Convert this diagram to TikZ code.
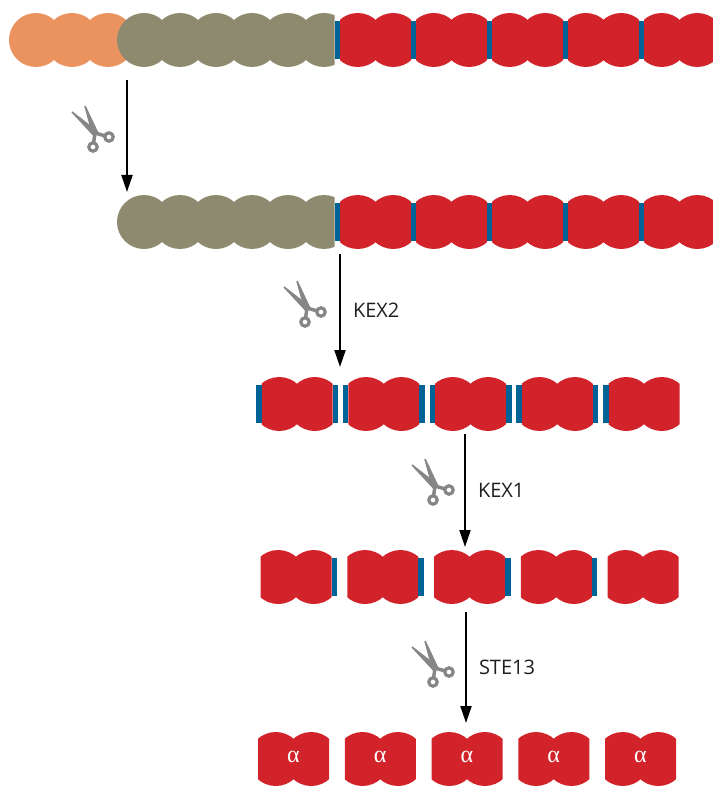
\documentclass[tikz,border=0pt]{standalone}
\usepackage{fontspec}
\setmainfont{Open Sans}
\newfontfamily\gregofont{Liberation Serif}
\usetikzlibrary{arrows.meta}

\definecolor{laranja}{HTML}{EA935F}
\definecolor{oliva}{HTML}{8E8A70}
\definecolor{vermelho}{HTML}{D2232A}
\definecolor{azul}{HTML}{006398}
\definecolor{cinza}{HTML}{868686}

\tikzset{
	seta/.style={-{Triangle[length=17pt,width=11pt]}, line width=2pt},
	rotulo/.style={anchor=west, inner sep=0pt, xshift=12pt, text=black!88, font=\fontsize{20}{24}\selectfont},
	alfa/.style={text=white, inner sep=0pt, font=\gregofont\fontsize{24}{28}\selectfont},
	barra/.style={fill=azul},
	pics/par/.style={code={ %par de esferas vermelhas
		\begin{scope}
			\clip (-35.5,-30) rectangle (35.5,30);
			\fill[vermelho] (-17.75,0) circle (27) (17.75,0) circle (27);
		\end{scope}}},
	pics/tesoura/.style={code={ %tesoura, origem no pino
		\fill[cinza] (-23.5,-20.5) -- (-22.5,-21.6) -- (2.19,-2.4) -- (-2.19,2.4) -- cycle; %lâmina 1
		\fill[cinza] (-10.7,-26.7) -- (-9.3,-27.3) -- (3.05,-1.13) -- (-3.05,1.13) -- cycle; %lâmina 2
		\draw[cinza, line width=3.5pt] (0,0) -- (-2,14) (0,0) -- (14,4); %cabos
		\draw[cinza, line width=3.2pt, fill=white] (-2,14) circle (4.2) (14,4) circle (4.2);}},
}

\begin{document}
\begin{tikzpicture}[x=1pt, y=-1pt] %escala em pontos, eixo y para baixo
	\useasboundingbox (0,0) rectangle (712,786);
		%Linha 1: pré-pró-proteína
	\foreach \x in {36,72,108} \fill[laranja] (\x,40) circle (27);
	\begin{scope}
		\clip (100,0) rectangle (334.5,80);
		\foreach \x in {144,180,...,324} \fill[oliva] (\x,40) circle (27);
	\end{scope}
	\foreach \i in {0,...,4} {
		\fill[barra] (334.5+76*\i,21) rectangle ++(5.5,38);
		\pic at (375.5+76*\i,40) {par};
	}
		%Linha 2: pró-proteína
	\begin{scope}
		\clip (100,180) rectangle (334.5,260);
		\foreach \x in {144,180,...,324} \fill[oliva] (\x,222) circle (27);
	\end{scope}
	\foreach \i in {0,...,4} {
		\fill[barra] (334.5+76*\i,203) rectangle ++(5.5,38);
		\pic at (375.5+76*\i,222) {par};
	}
		%Linha 3: após KEX2
	\foreach \i in {0,...,4} {
		\pic at (297+86.75*\i,404) {par};
		\fill[barra] (256+86.75*\i,385) rectangle ++(5.5,38);
	}
	\foreach \i in {0,...,3}
		\fill[barra] (332.5+86.75*\i,385) rectangle ++(5.5,38);
		%Linha 4: após KEX1
	\foreach \i in {0,...,4}
		\pic at (296+86.75*\i,577) {par};
	\foreach \i in {0,...,3}
		\fill[barra] (331.5+86.75*\i,558) rectangle ++(5.5,38);
		%Linha 5: fator alfa maduro
	\foreach \i in {0,...,4} {
		\pic at (293.5+86.75*\i,759) {par};
		\node[alfa] (a\i) at (293.5+86.75*\i,757) {α};
	}
		%Setas
	\coordinate (s1) at (127,80);  \coordinate (e1) at (127,192);
	\coordinate (s2) at (340,254); \coordinate (e2) at (340,367);
	\coordinate (s3) at (465,434); \coordinate (e3) at (465,547);
	\coordinate (s4) at (466,612); \coordinate (e4) at (466,723);
	\draw[seta] (s1) -- (e1);
	\draw[seta] (s2) -- node[rotulo] (k2) {KEX2} (e2);
	\draw[seta] (s3) -- node[rotulo] (k1) {KEX1} (e3);
	\draw[seta] (s4) -- node[rotulo] (st) {STE13} (e4);
		%Tesouras
	\pic (t1) at (95,133) {tesoura};
	\pic (t2) at (307,308) {tesoura};
	\pic (t3) at (435,486) {tesoura};
	\pic (t4) at (435,668) {tesoura};
\end{tikzpicture}
\end{document}
